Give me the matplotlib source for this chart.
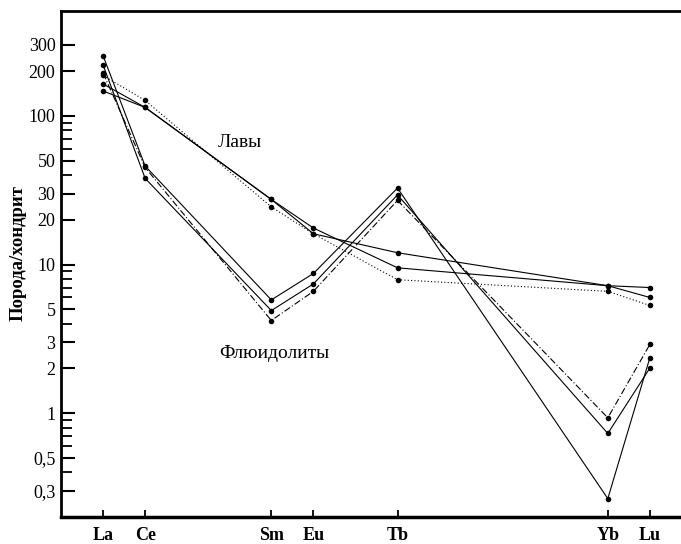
import matplotlib
matplotlib.use('Agg')
import matplotlib.pyplot as plt
from matplotlib.ticker import FixedLocator, NullFormatter

plt.rcParams['font.family'] = ['Liberation Serif', 'DejaVu Serif']

# Элементы и их положение по порядку (Pr, Nd, Pm, Gd, Dy, Ho, Er, Tm пропущены)
elements = ['La', 'Ce', 'Sm', 'Eu', 'Tb', 'Yb', 'Lu']
positions = [0, 1, 4, 5, 7, 12, 13]

# Лавы
lava_1 = [164, 114, 27.4, 17.6, 9.5, 7.2, 6.0]
lava_2 = [147, 114, 27.4, 16.1, 12.0, 7.2, 7.0]
lava_3 = [187, 127, 24.4, 16.1, 7.9, 6.6, 5.3]

# Флюидолиты
fluid_1 = [254, 46, 5.78, 8.7, 32.7, 0.266, 2.36]
fluid_2 = [220, 38, 4.9, 7.4, 29.4, 0.73, 2.01]
fluid_3 = [194, 45, 4.2, 6.6, 27.0, 0.93, 2.9]

y_major = [0.3, 0.5, 1, 2, 3, 5, 10, 20, 30, 50, 100, 200, 300]
y_major_labels = ['0,3', '0,5', '1', '2', '3', '5', '10', '20', '30', '50', '100', '200', '300']
y_minor = [0.4, 0.6, 0.7, 0.8, 0.9, 4, 6, 7, 8, 9, 40, 60, 70, 80, 90]

fig = plt.figure(figsize=(6.81, 5.44), dpi=100)
ax = fig.add_axes([0.0896, 0.0496, 0.9104, 0.9307])

series = [
    (lava_1, '-'), (lava_2, '-'), (lava_3, (0, (1, 2))),
    (fluid_1, '-'), (fluid_2, '-'), (fluid_3, (0, (6, 2, 1, 2))),
]
for values, ls in series:
    ax.plot(positions, values, color='black', linestyle=ls, linewidth=0.8,
            marker='o', markersize=4, markerfacecolor='black', markeredgewidth=0)

ax.set_yscale('log')
ax.set_ylim(0.2, 510)
ax.set_xlim(-1.0, 13.74)

ax.yaxis.set_major_locator(FixedLocator(y_major))
ax.set_yticklabels(y_major_labels)
ax.yaxis.set_minor_locator(FixedLocator(y_minor))
ax.yaxis.set_minor_formatter(NullFormatter())

ax.set_xticks(positions)
ax.set_xticklabels(elements, fontweight='bold', fontsize=13)

ax.tick_params(axis='y', which='major', direction='in', length=10, width=1.5,
               labelsize=13, pad=4)
ax.tick_params(axis='y', which='minor', direction='in', length=8, width=1.3)
ax.tick_params(axis='x', direction='in', length=5, width=1.3, pad=7)

ax.spines['right'].set_visible(False)
ax.spines['left'].set_linewidth(2)
ax.spines['bottom'].set_linewidth(2.5)
ax.spines['top'].set_linewidth(2)

ax.set_ylabel('Порода/хондрит', fontweight='bold', fontsize=13.5)
ax.yaxis.set_label_coords(-0.056, 0.521)

ax.text(3.26, 66, 'Лавы', fontsize=14, ha='center', va='center')
ax.text(4.06, 2.5, 'Флюидолиты', fontsize=14, ha='center', va='center')

fig.savefig('out.png', dpi=100)
